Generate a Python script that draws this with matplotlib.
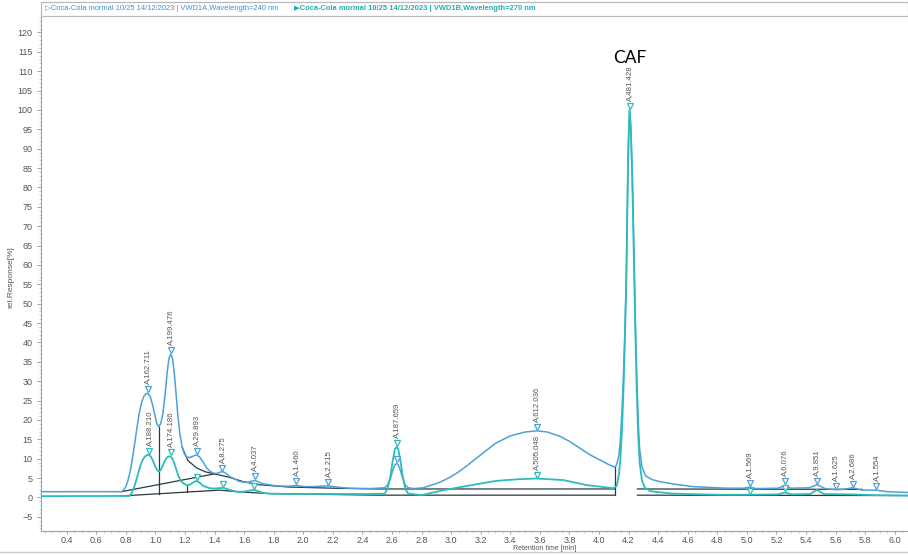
import matplotlib
matplotlib.use("Agg")
import matplotlib.pyplot as plt
from matplotlib.transforms import offset_copy
from matplotlib.patches import Rectangle
from matplotlib.lines import Line2D
from matplotlib.ticker import MultipleLocator

plt.rcParams['font.family'] = ['Liberation Sans', 'DejaVu Sans']

# ---------------- data ----------------
header_240 = "\u25b7Coca-Cola mormal 10/25 14/12/2023 | VWD1A,Wavelength=240 nm"
header_270 = "\u25b6Coca-Cola mormal 10/25 14/12/2023 | VWD1B,Wavelength=270 nm"

# trace at 240 nm (blue)
blue_t = [0.225, 0.77, 0.785, 0.80, 0.815, 0.83, 0.845, 0.86, 0.875, 0.89, 0.905,
          0.92, 0.935, 0.95, 0.965, 0.98, 0.995, 1.01, 1.022, 1.035, 1.05, 1.065,
          1.08, 1.092, 1.104, 1.116, 1.128, 1.14, 1.152, 1.165, 1.18, 1.195, 1.21,
          1.23, 1.25, 1.278, 1.30, 1.322, 1.345, 1.368, 1.39, 1.413, 1.435, 1.453,
          1.475, 1.503, 1.571, 1.627, 1.65, 1.672, 1.70, 1.728, 1.819, 1.90,
          1.954, 2.01, 2.067, 2.168, 2.25, 2.303, 2.45, 2.55, 2.57, 2.59, 2.605,
          2.62, 2.631, 2.642, 2.657, 2.672, 2.69, 2.71, 2.75, 2.81, 2.85, 2.90,
          2.95, 3.00, 3.05, 3.10, 3.20, 3.30, 3.40, 3.50, 3.578, 3.65, 3.736, 3.80,
          3.871, 3.94, 4.006, 4.06, 4.108, 4.12, 4.135, 4.145, 4.155, 4.165, 4.175,
          4.185, 4.195, 4.20, 4.207, 4.215, 4.225, 4.235, 4.245, 4.255, 4.265,
          4.275, 4.29, 4.31, 4.322, 4.36, 4.412, 4.50, 4.637, 4.75, 4.863, 4.98,
          5.021, 5.06, 5.21, 5.258, 5.30, 5.42, 5.474, 5.53, 5.603, 5.65, 5.716,
          5.78, 5.874, 5.95, 6.09]
blue_y = [1.5, 1.5, 1.9, 2.8, 4.5, 6.9, 10.2, 14.0, 18.0, 21.6, 24.3,
          26.0, 26.8, 26.9, 26.0, 24.0, 21.5, 19.0, 18.3, 19.0, 21.5, 26.5,
          32.5, 36.0, 37.0, 35.8, 32.0, 26.5, 21.0, 16.5, 13.2, 11.3, 10.5,
          10.3, 10.6, 11.0, 10.4, 9.2, 7.7, 6.8, 6.3, 6.2, 6.5, 6.7,
          6.3, 5.4, 4.1, 3.9, 4.2, 4.4, 4.0, 3.5, 3.0, 2.9,
          3.1, 2.8, 2.8, 3.0, 2.6, 2.4, 2.3, 2.5, 3.2, 5.0, 7.0,
          8.4, 8.8, 8.4, 7.0, 5.0, 3.2, 2.5, 2.3, 2.5, 3.0, 3.6,
          4.4, 5.4, 6.6, 8.0, 11.0, 14.0, 15.9, 16.9, 17.2, 16.9, 15.8, 14.5,
          12.7, 11.0, 9.7, 8.6, 7.8, 8.5, 11.0, 15.0, 22.0, 31.0, 43.0,
          58.0, 82.0, 92.0, 100.0, 96.0, 84.0, 67.0, 48.0, 32.0, 20.0,
          12.5, 8.0, 6.0, 5.4, 4.6, 4.1, 3.5, 2.8, 2.6, 2.4, 2.4,
          2.7, 2.3, 2.4, 3.1, 2.4, 2.5, 3.3, 2.3, 2.0, 2.1, 2.5,
          1.9, 1.9, 1.5, 1.3]

# trace at 270 nm (teal)
teal_t = [0.225, 0.826, 0.84, 0.855, 0.87, 0.885, 0.90, 0.915, 0.93, 0.945, 0.957,
          0.97, 0.985, 1.0, 1.012, 1.024, 1.036, 1.05, 1.065, 1.08, 1.092, 1.102,
          1.115, 1.128, 1.142, 1.155, 1.17, 1.187, 1.21, 1.232, 1.255, 1.278, 1.30,
          1.322, 1.368, 1.40, 1.457, 1.50, 1.548, 1.60, 1.665, 1.728, 1.77, 1.9,
          2.2, 2.45, 2.55, 2.57, 2.59, 2.605, 2.62, 2.631, 2.642, 2.657, 2.672,
          2.69, 2.71, 2.80, 2.856, 2.95, 3.08, 3.20, 3.307, 3.45, 3.578, 3.758,
          3.916, 4.096, 4.12, 4.135, 4.145, 4.155, 4.165, 4.175, 4.185, 4.195, 4.20,
          4.207, 4.215, 4.225, 4.235, 4.245, 4.255, 4.265, 4.275, 4.29, 4.31, 4.35,
          4.5, 4.8, 5.0, 5.21, 5.258, 5.30, 5.43, 5.474, 5.52, 5.7, 5.874, 6.09]
teal_y = [0.35, 0.4, 1.2, 2.6, 4.4, 6.5, 8.4, 9.8, 10.6, 11.0, 11.0,
          10.5, 9.3, 7.9, 7.0, 6.7, 7.1, 8.3, 9.6, 10.4, 10.6, 10.6,
          10.0, 8.8, 7.1, 5.6, 4.4, 3.7, 3.2, 3.3, 3.9, 4.3, 3.8,
          3.0, 2.4, 2.3, 2.5, 2.0, 1.5, 1.5, 2.0, 1.2, 1.0, 0.9,
          0.9, 0.9, 1.0, 2.2, 5.6, 9.5, 12.5, 13.0, 12.5, 9.5, 5.6,
          2.2, 1.0, 0.6, 1.1, 1.9, 2.8, 3.6, 4.3, 4.7, 4.9, 4.5,
          3.2, 2.4, 3.0, 6.0, 10.0, 17.0, 27.0, 40.0, 56.0, 84.0, 93.0,
          100.0, 95.0, 82.0, 63.0, 44.0, 28.0, 16.0, 9.0, 4.5, 2.5, 1.6,
          1.0, 0.7, 0.7, 0.8, 1.3, 0.8, 0.9, 2.0, 0.9, 0.8, 0.6, 0.5]

# integration baselines / drop lines (dark)
base_segments = [
    [(0.77, 1.5), (1.40, 6.1)],
    [(1.18, 13.0), (1.22, 9.5), (1.28, 7.6), (1.34, 6.6), (1.40, 6.1)],
    [(1.40, 6.1), (1.50, 5.2), (1.593, 4.1), (1.70, 3.3), (1.90, 2.7), (2.20, 2.4),
     (2.50, 2.2), (4.108, 2.2)],
    [(4.26, 2.2), (5.78, 2.1)],
    [(0.77, 0.4), (1.435, 1.9), (1.55, 1.5), (1.77, 1.0), (2.50, 0.6), (4.108, 0.6)],
    [(4.26, 0.6), (6.09, 0.5)],
    [(1.022, 18.3), (1.022, 1.0)],
    [(1.214, 3.0), (1.214, 1.5)],
    [(4.108, 7.8), (4.108, 0.6)],
]

blue_peak_t = [0.948, 1.104, 1.278, 1.453, 1.672, 1.954, 2.168, 2.631, 3.578,
               5.021, 5.258, 5.474, 5.603, 5.716, 5.874]
blue_peak_y = [26.9, 37.0, 11.0, 6.7, 4.4, 3.1, 3.0, 8.8, 17.2,
               2.7, 3.1, 3.3, 2.0, 2.5, 1.9]
blue_peak_labels = ["A,162.711", "A,199.476", "A,29.893", "A,8.275", "A,4.037",
                    "A,1.460", "A,2.215", "", "A,612.036",
                    "A,1.569", "A,6.076", "A,9.851", "A,1.625", "A,2.686", "A,1.554"]

teal_peak_t = [0.957, 1.102, 1.278, 1.457, 1.665, 2.631, 3.578, 4.207, 5.021, 5.258]
teal_peak_y = [11.0, 10.6, 4.3, 2.5, 2.0, 13.0, 4.9, 100.0, 0.7, 1.3]
teal_peak_labels = ["A,188.210", "A,174.186", "", "", "", "A,187.659", "A,505.048",
                    "A,481.428", "", ""]

y_ticks = list(range(-5, 121, 5))
x_ticks = [round(0.4 + 0.2 * i, 1) for i in range(29)]

# ---------------- styling ----------------
BLUE = '#4aa2d8'
TEAL = '#2dbcbc'
DARK = '#2b3940'
GRAY_TXT = '#555555'

W, H = 908, 555
fig = plt.figure(figsize=(W / 100, H / 100), dpi=100)
fig.patch.set_facecolor('white')

ax_left, ax_right, ax_bottom, ax_top = 41, 908, 530.7, 17
ax = fig.add_axes([ax_left / W, (H - ax_bottom) / H,
                   (ax_right - ax_left) / W, (ax_bottom - ax_top) / H])
ax.set_xlim(0.226, 6.09)
ax.set_ylim(-8.57, 124.0)

for seg in base_segments:
    xs = [p[0] for p in seg]
    ys = [p[1] for p in seg]
    ax.plot(xs, ys, color=DARK, lw=0.9, zorder=2)

ax.plot(blue_t, blue_y, color=BLUE, lw=1.1, zorder=3, solid_joinstyle='round')
ax.plot(teal_t, teal_y, color=TEAL, lw=1.3, zorder=4, solid_joinstyle='round')

mk_tr = offset_copy(ax.transData, fig=fig, y=4, units='dots')
tx_tr = offset_copy(ax.transData, fig=fig, y=9, units='dots')

ax.plot(blue_peak_t, blue_peak_y, ls='none', marker='v', ms=5, mfc='white',
        mec=BLUE, mew=0.9, transform=mk_tr, zorder=5)
ax.plot(teal_peak_t, teal_peak_y, ls='none', marker='v', ms=5, mfc='white',
        mec=TEAL, mew=0.9, transform=mk_tr, zorder=6)

for t, y, lab in zip(blue_peak_t, blue_peak_y, blue_peak_labels):
    if lab:
        ax.text(t, y, lab, transform=tx_tr, rotation=90, ha='center', va='bottom',
                fontsize=5.6, color=GRAY_TXT, zorder=7)
for t, y, lab in zip(teal_peak_t, teal_peak_y, teal_peak_labels):
    if lab:
        ax.text(t, y, lab, transform=tx_tr, rotation=90, ha='center', va='bottom',
                fontsize=5.6, color=GRAY_TXT, zorder=7)

ax.text(4.205, 113.3, "CAF", ha='center', va='center', fontsize=12.5,
        family=['Lato', 'DejaVu Sans'], color='black')

for s in ['top', 'right']:
    ax.spines[s].set_visible(False)
for s in ['left', 'bottom']:
    ax.spines[s].set_color('#a0a0a8')
    ax.spines[s].set_linewidth(0.8)

ax.set_yticks(y_ticks)
ax.set_xticks(x_ticks)
ax.set_xticklabels([f"{v:.1f}" for v in x_ticks])
ax.yaxis.set_minor_locator(MultipleLocator(1))
ax.xaxis.set_minor_locator(MultipleLocator(0.05))
ax.tick_params(axis='y', which='major', labelsize=6.5, colors='#a0a0a8',
               labelcolor=GRAY_TXT, length=3, width=0.7, pad=3)
ax.tick_params(axis='x', which='major', labelsize=6.5, colors='#a0a0a8',
               labelcolor=GRAY_TXT, length=2, width=0.7, pad=1.5)
ax.tick_params(axis='both', which='minor', colors='#b0b0b8', length=1.3, width=0.5)

# header box with trace legends
fig.patches.append(Rectangle((41 / W, (H - 16) / H), (W - 41) / W, 14 / H,
                             transform=fig.transFigure, facecolor='white',
                             edgecolor='#b8b8c4', lw=0.9))
fig.text(45 / W, (H - 9) / H, header_240, fontsize=5.4, color='#3d8fd1',
         va='center', ha='left')
fig.text(294 / W, (H - 9) / H, header_270, fontsize=5.4, color='#20b0b0',
         va='center', ha='left', fontweight='bold')

fig.text(11 / W, (H - 277) / H, "rel.Response[%]", rotation=90, fontsize=6,
         color=GRAY_TXT, ha='center', va='center')
fig.text(545 / W, (H - 548.5) / H, "Retention time [min]", fontsize=5,
         color=GRAY_TXT, ha='center', va='center')

fig.lines.append(Line2D([0, 1], [(H - 552) / H] * 2, transform=fig.transFigure,
                        color='#c8c8cc', lw=1.0))

fig.savefig("out.png", dpi=100)
